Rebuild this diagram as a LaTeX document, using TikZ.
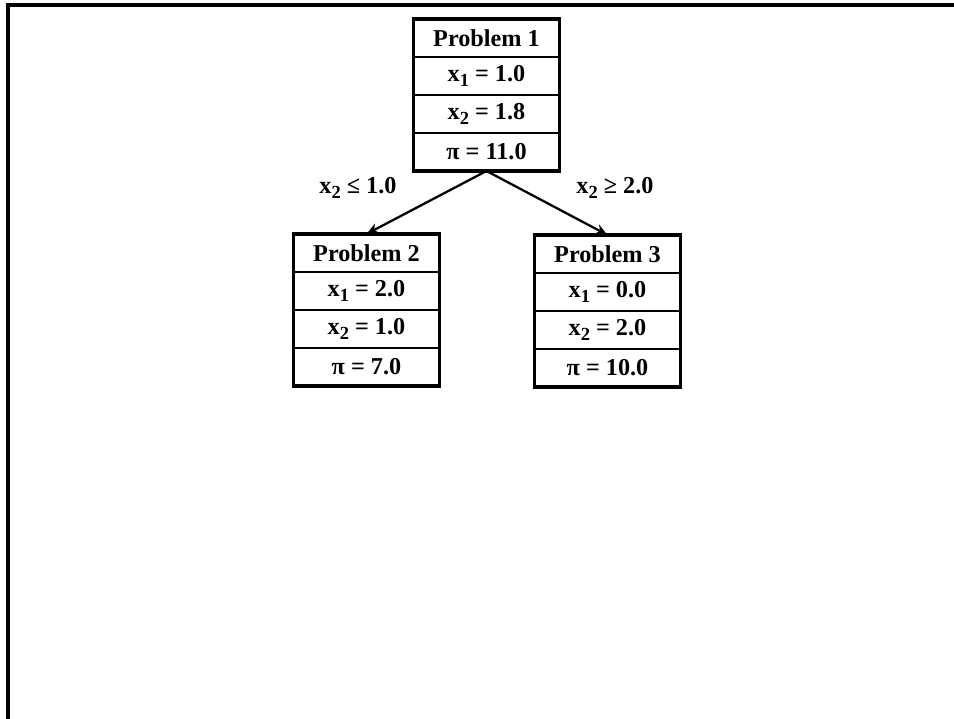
\documentclass[tikz,border=0pt]{standalone}
\usepackage{fontspec}
\setmainfont{Liberation Serif}
\usetikzlibrary{arrows.meta,positioning}

\newcommand{\idx}[1]{\raisebox{-0.45ex}{\fontsize{10.5}{12}\selectfont #1}}

\tikzset{
  cell/.style={draw,line width=0.7pt,minimum width=2.92cm,minimum height=0.76cm,
    inner sep=0pt,outer sep=0pt,font=\fontsize{13.8}{16}\selectfont\bfseries},
  cutlbl/.style={font=\fontsize{13.8}{16}\selectfont\bfseries},
  frame/.style={line width=2.1pt},
  branch/.style={-{Stealth[length=7pt,width=6pt]},line width=1.3pt},
}

\begin{document}
\begin{tikzpicture}[x=0.02cm,y=-0.02cm]
  \useasboundingbox (0,0) rectangle (954,719);
  % page frame
  \draw[frame] (8,719) -- (8,5) -- (954,5);
  % problem boxes: number / centre x / top y / x1 / x2 / objective
  \foreach \n/\cx/\ty/\a/\b/\c in {1/486.5/19/1.0/1.8/11.0,
                                   2/366.5/234/2.0/1.0/7.0,
                                   3/607.5/235/0.0/2.0/10.0}{
    \node[cell,anchor=north] (p\n) at (\cx,\ty) {Problem \n};
    \node[cell,below=0pt of p\n] (p\n-x1) {x\idx{1} = \a};
    \node[cell,below=0pt of p\n-x1] (p\n-x2) {x\idx{2} = \b};
    \node[cell,below=0pt of p\n-x2] (p\n-pi) {π = \c};
    \draw[frame] (p\n.north west) rectangle (p\n-pi.south east);
  }
  % branching on x2
  \draw[branch] (p1-pi.south) -- (p2.north);
  \draw[branch] (p1-pi.south) -- (p3.north);
  \node[cutlbl] (cutlow) at (358,188) {x\idx{2} ≤ 1.0};
  \node[cutlbl] (cuthigh) at (615,188) {x\idx{2} ≥ 2.0};
\end{tikzpicture}
\end{document}
